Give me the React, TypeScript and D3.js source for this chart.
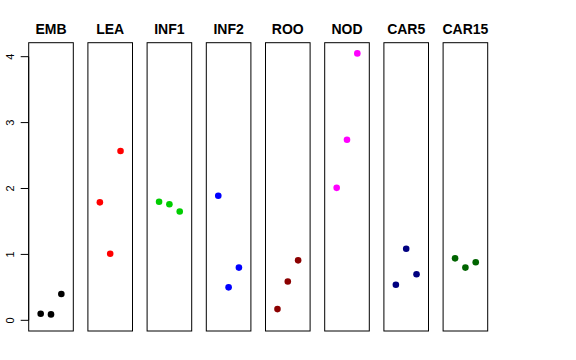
import React from 'react';
import * as d3 from 'd3';

const tissues = ['EMB', 'LEA', 'INF1', 'INF2', 'ROO', 'NOD', 'CAR5', 'CAR15'];
const colors = ['#000000', '#FF0000', '#00CD00', '#0000FF', '#8B0000', '#FF00FF', '#000080', '#006400'];
const replicates = [1, 2, 3];
const EMB = [0.10, 0.09, 0.40];
const LEA = [1.79, 1.01, 2.57];
const INF1 = [1.80, 1.76, 1.65];
const INF2 = [1.89, 0.50, 0.80];
const ROO = [0.17, 0.59, 0.91];
const NOD = [2.01, 2.74, 4.05];
const CAR5 = [0.54, 1.085, 0.70];
const CAR15 = [0.94, 0.80, 0.88];
const yTicks = [0, 1, 2, 3, 4];

const series = [EMB, LEA, INF1, INF2, ROO, NOD, CAR5, CAR15];

const App: React.FC = () => {
  const w = 576;
  const h = 360;
  const top = 42.7;
  const bottom = 331;

  const panel = d3.scaleBand<string>()
    .domain(tissues)
    .range([28.7, 487.7])
    .paddingInner(0.2466)
    .paddingOuter(0);

  const ymax = d3.max(series.flat()) || 4;
  const yScale = d3.scaleLinear()
    .domain([-ymax * 0.04, ymax * 1.04])
    .range([bottom, top]);

  const xScale = d3.scaleLinear()
    .domain([-0.16, 4.16])
    .range([0, panel.bandwidth()]);

  const axisX = panel(tissues[0]) || 0;

  return (
    <svg width={w} height={h} style={{ position: 'absolute', left: 0, top: 0, background: '#fff' }}
      fontFamily="'Liberation Sans', Arial, sans-serif">
      {tissues.map((t, i) => {
        const x0 = panel(t) || 0;
        return (
          <g key={t}>
            <text x={x0 + panel.bandwidth() / 2} y={34} textAnchor="middle" fontSize={14}
              fontWeight="bold" fill="#000">{t}</text>
            <rect x={x0} y={top} width={panel.bandwidth()} height={bottom - top}
              fill="none" stroke="#000" strokeWidth={1} />
            {series[i].map((v, j) => (
              <circle key={j} cx={x0 + xScale(replicates[j])} cy={yScale(v)} r={3.3} fill={colors[i]} />
            ))}
          </g>
        );
      })}
      <g>
        <line x1={axisX} x2={axisX} y1={yScale(0)} y2={yScale(4)} stroke="#000" />
        {yTicks.map((t) => (
          <g key={t}>
            <line x1={axisX - 8} x2={axisX} y1={yScale(t)} y2={yScale(t)} stroke="#000" />
            <text transform={`translate(${axisX - 15},${yScale(t)}) rotate(-90)`} textAnchor="middle"
              fontSize={11} fill="#000">{t}</text>
          </g>
        ))}
      </g>
    </svg>
  );
};

export default App;
